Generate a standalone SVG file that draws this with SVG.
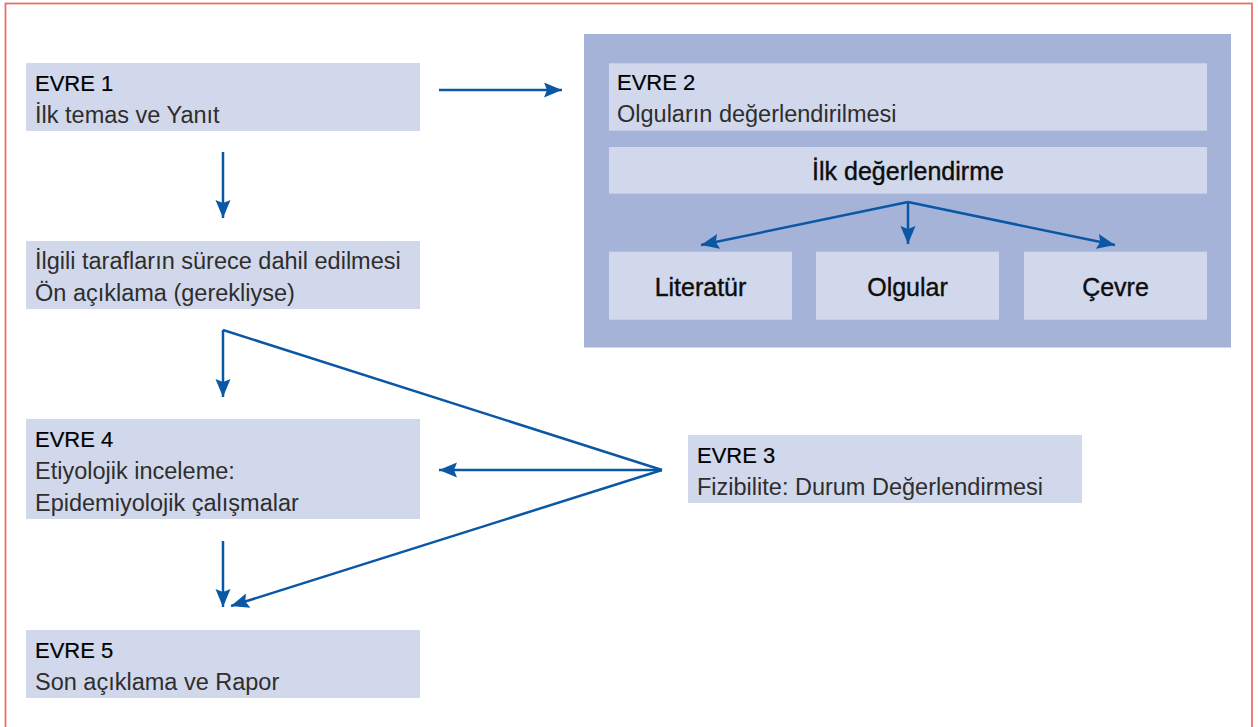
<svg xmlns="http://www.w3.org/2000/svg" width="1258" height="727" viewBox="0 0 1258 727">
<style>
.frame{fill:#ffffff;stroke:#E9706A;stroke-width:1.8}
.box{fill:#D2D8EB}
.outer{fill:#A5B3D9}
.hd{font-family:"Liberation Sans",Arial,sans-serif;font-size:22px;fill:#000000;stroke:#000;stroke-width:0.2}
.bd{font-family:"Liberation Sans",Arial,sans-serif;font-size:23.5px;fill:#2e2e2e}
.ct{font-family:"Liberation Sans",Arial,sans-serif;font-size:25px;fill:#0d0d0d;stroke:#0d0d0d;stroke-width:0.4;text-anchor:middle}
.ln{fill:none;stroke:#0A58A5;stroke-width:2.5}
.ar{marker-end:url(#ah)}
</style>
<defs>
<marker id="ah" markerUnits="userSpaceOnUse" markerWidth="19" markerHeight="16" refX="18" refY="7.5" orient="auto">
<path d="M0,0 L18,7.5 L0,15 L3,7.5 z" fill="#0A58A5"/>
</marker>
</defs>
<rect class="frame" x="5.5" y="3.5" width="1246.5" height="740"/>

<g id="evre1">
<rect class="box" x="26" y="63" width="394" height="68"/>
<text class="hd" x="35" y="90.5">EVRE 1</text>
<text class="bd" x="35" y="122.5">İlk temas ve Yanıt</text>
</g>

<g id="ilgili">
<rect class="box" x="26" y="241" width="394" height="68"/>
<text class="bd" x="35" y="268.5">İlgili tarafların sürece dahil edilmesi</text>
<text class="bd" x="35" y="300.5">Ön açıklama (gerekliyse)</text>
</g>

<g id="evre4">
<rect class="box" x="26" y="419" width="394" height="100"/>
<text class="hd" x="35" y="446.5">EVRE 4</text>
<text class="bd" x="35" y="479">Etiyolojik inceleme:</text>
<text class="bd" x="35" y="511">Epidemiyolojik çalışmalar</text>
</g>

<g id="evre5">
<rect class="box" x="26" y="630" width="394" height="68"/>
<text class="hd" x="35" y="657.5">EVRE 5</text>
<text class="bd" x="35" y="689.5">Son açıklama ve Rapor</text>
</g>

<g id="evre3">
<rect class="box" x="688" y="435" width="394" height="68"/>
<text class="hd" x="697" y="462.5">EVRE 3</text>
<text class="bd" x="697" y="494.5">Fizibilite: Durum Değerlendirmesi</text>
</g>

<g id="evre2">
<rect class="outer" x="584" y="34" width="647" height="313.5"/>
<rect class="box" x="609" y="63.3" width="598" height="67.4"/>
<text class="hd" x="617" y="90">EVRE 2</text>
<text class="bd" x="617" y="121.5">Olguların değerlendirilmesi</text>
</g>

<g id="ilk-degerlendirme">
<rect class="box" x="609" y="147" width="598" height="46.7"/>
<text class="ct" x="908" y="180">İlk değerlendirme</text>
</g>

<g id="literatur">
<rect class="box" x="609" y="251.7" width="183" height="68"/>
<text class="ct" x="700.5" y="295.5">Literatür</text>
</g>

<g id="olgular">
<rect class="box" x="816" y="251.7" width="183" height="68"/>
<text class="ct" x="907.5" y="295.5">Olgular</text>
</g>

<g id="cevre">
<rect class="box" x="1024" y="251.7" width="183" height="68"/>
<text class="ct" x="1115.5" y="295.5">Çevre</text>
</g>

<g id="connectors">
<path class="ln ar" d="M439,90 H562"/>
<path class="ln ar" d="M223,152 V218"/>
<path class="ln ar" d="M223,330 V397"/>
<path class="ln" d="M662,470 L223,330"/>
<path class="ln ar" d="M662,470 H439"/>
<path class="ln ar" d="M662,470 L231,606"/>
<path class="ln ar" d="M223,541 V607"/>
<path class="ln ar" d="M908,202 L701,245"/>
<path class="ln ar" d="M908,202 V244"/>
<path class="ln ar" d="M908,202 L1115,245"/>
</g>
</svg>
